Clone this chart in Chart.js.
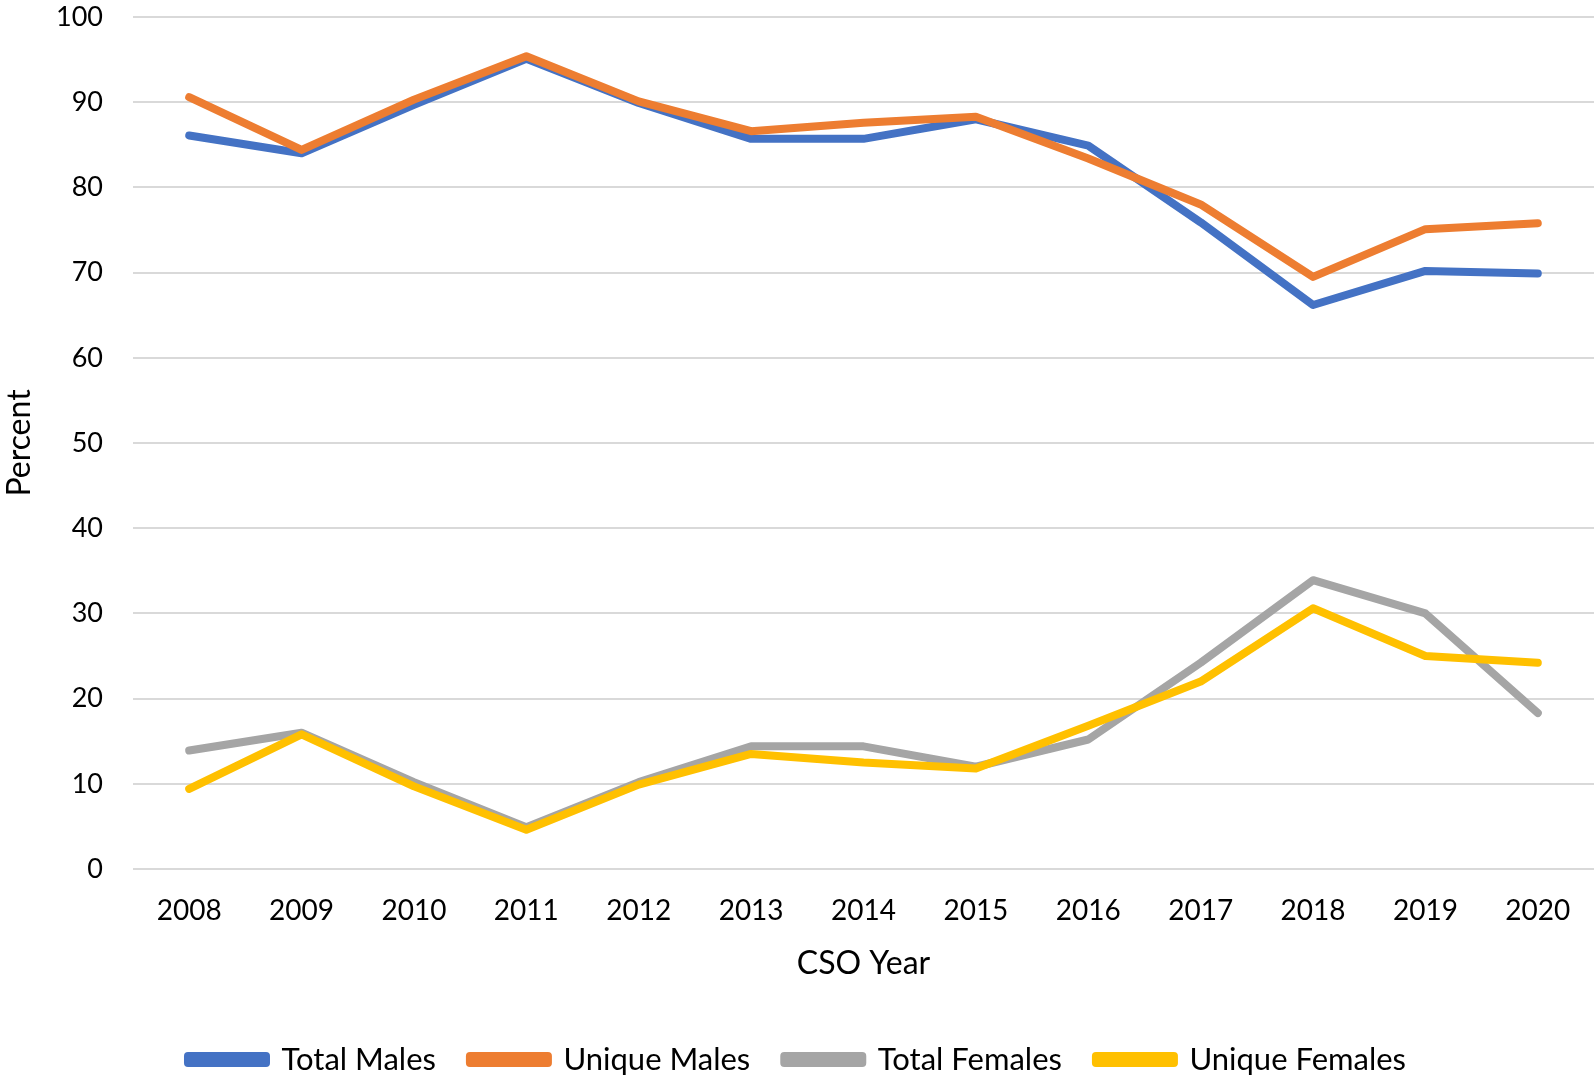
<!DOCTYPE html>
<html>
<head>
<meta charset="utf-8">
<script src="https://cdn.jsdelivr.net/npm/chart.js@4.4.1/dist/chart.umd.min.js"></script>
<style>
    html, body { margin: 0; padding: 0; background: #fff; }
    #wrap { width: 1594px; height: 1081px; position: relative; }
</style>
</head>
<body>
<div id="wrap"><canvas id="cso-graph"></canvas></div>
<script>
const years = ['2008', '2009', '2010', '2011', '2012', '2013', '2014', '2015', '2016', '2017', '2018', '2019', '2020'];
const totalMales = [86.1, 84.0, 89.7, 95.1, 89.9, 85.7, 85.7, 88.0, 84.9, 75.9, 66.2, 70.2, 69.9];
const uniqueMales = [90.6, 84.4, 90.3, 95.4, 90.1, 86.6, 87.6, 88.3, 83.4, 78.0, 69.5, 75.1, 75.8];
const totalFemales = [13.9, 16.0, 10.2, 4.9, 10.2, 14.4, 14.4, 12.0, 15.2, 24.2, 33.9, 30.0, 18.3];
const uniqueFemales = [9.4, 15.8, 9.7, 4.6, 9.9, 13.5, 12.5, 11.8, 16.8, 22.0, 30.6, 25.0, 24.2];
const yTicks = [0, 10, 20, 30, 40, 50, 60, 70, 80, 90, 100];

const fontFamily = 'Lato, "Open Sans", sans-serif';

const makeLine = (label, data, color, order) => ({
    label: label,
    data: data,
    borderColor: color,
    backgroundColor: color,
    borderWidth: 8,
    borderCapStyle: 'round',
    borderJoinStyle: 'round',
    pointRadius: 0,
    tension: 0,
    order: order,
});

const csoChart = document.getElementById('cso-graph');

let csoGraph = new Chart(csoChart, {
    type: 'line',
    data: {
        labels: years,
        datasets: [
            makeLine('Total Males', totalMales, '#4472C4', 4),
            makeLine('Unique Males', uniqueMales, '#ED7D31', 3),
            makeLine('Total Females', totalFemales, '#A5A5A5', 2),
            makeLine('Unique Females', uniqueFemales, '#FFC000', 1),
        ]
    },
    options: {
        responsive: true,
        maintainAspectRatio: false,
        animation: false,
        layout: {
            padding: { top: 17, right: 0, bottom: -4, left: 0 },
        },
        plugins: {
            tooltip: { enabled: false },
            legend: {
                position: 'bottom',
                labels: {
                    boxWidth: 78,
                    boxHeight: 7,
                    padding: 34,
                    color: '#000',
                    font: { family: fontFamily, size: 31 },
                    sort: (a, b) => a.datasetIndex - b.datasetIndex,
                },
            },
        },
        scales: {
            x: {
                offset: true,
                grid: { display: false },
                border: { display: false },
                ticks: {
                    color: '#000',
                    padding: 17,
                    maxRotation: 0,
                    font: { family: fontFamily, size: 28 },
                },
                title: {
                    display: true,
                    text: 'CSO Year',
                    color: '#000',
                    font: { family: fontFamily, size: 32 },
                    padding: { top: 0, bottom: 27 },
                },
            },
            y: {
                min: 0,
                max: 100,
                afterBuildTicks: (scale) => {
                    scale.ticks = yTicks.map(v => ({ value: v }));
                },
                afterFit: (scale) => {
                    scale.width = 133;
                    // tick padding is horizontal here, keep it out of the top/bottom room
                    scale.paddingTop = 0;
                    scale.paddingBottom = 0;
                },
                grid: {
                    color: '#D9D9D9',
                    lineWidth: 2,
                    drawTicks: false,
                },
                border: { display: false },
                ticks: {
                    color: '#000',
                    padding: 30,
                    font: { family: fontFamily, size: 27 },
                },
                title: {
                    display: true,
                    text: 'Percent',
                    color: '#000',
                    font: { family: fontFamily, size: 32 },
                    padding: 0,
                },
            },
        },
    },
});
</script>
</body>
</html>
